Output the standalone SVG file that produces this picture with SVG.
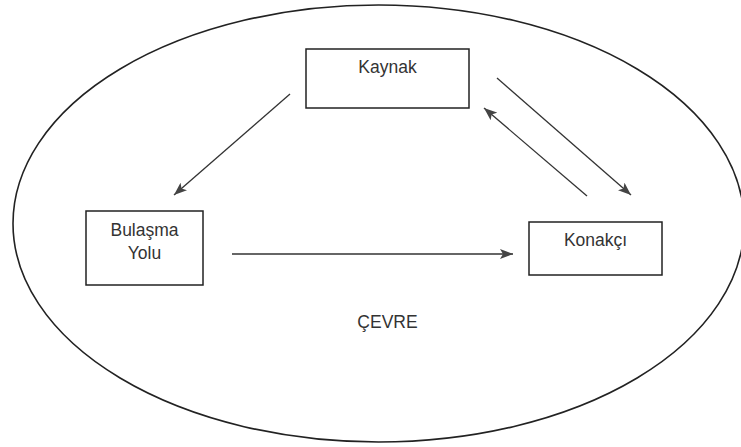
<svg xmlns="http://www.w3.org/2000/svg" width="741" height="447" viewBox="0 0 741 447">
<style>
.box{fill:#fff;stroke:#222;stroke-width:1.5}
.lbl{font-family:"Liberation Sans",Arial,sans-serif;font-size:17.5px;fill:#333;text-anchor:middle}
.conn{stroke:#333;stroke-width:1.3;fill:none;marker-end:url(#ah)}
</style>
<defs>
<marker id="ah" markerUnits="userSpaceOnUse" markerWidth="14" markerHeight="10" refX="13" refY="5" orient="auto">
<path d="M0,0 L13,5 L0,10 L3,5 Z" fill="#444"/>
</marker>
</defs>
<rect width="741" height="447" fill="#fff"/>
<g id="cevre">
<ellipse cx="378.6" cy="223.5" rx="365.6" ry="218.5" fill="none" stroke="#222" stroke-width="1.6"/>
<text class="lbl" x="387.5" y="328">ÇEVRE</text>
</g>
<g id="kaynak">
<rect class="box" x="306" y="49" width="163" height="59"/>
<text class="lbl" x="387.5" y="73">Kaynak</text>
</g>
<g id="bulasma">
<rect class="box" x="86" y="211" width="117" height="74"/>
<text class="lbl" x="144.5" y="236">Bulaşma</text>
<text class="lbl" x="144.5" y="259">Yolu</text>
</g>
<g id="konakci">
<rect class="box" x="529" y="222" width="133" height="53"/>
<text class="lbl" x="595.5" y="246">Konakçı</text>
</g>
<g id="connectors">
<line class="conn" x1="290" y1="94" x2="174" y2="195"/>
<line class="conn" x1="497" y1="78" x2="631" y2="195"/>
<line class="conn" x1="587" y1="196" x2="484" y2="108"/>
<line class="conn" x1="232" y1="254" x2="513" y2="254"/>
</g>
</svg>
